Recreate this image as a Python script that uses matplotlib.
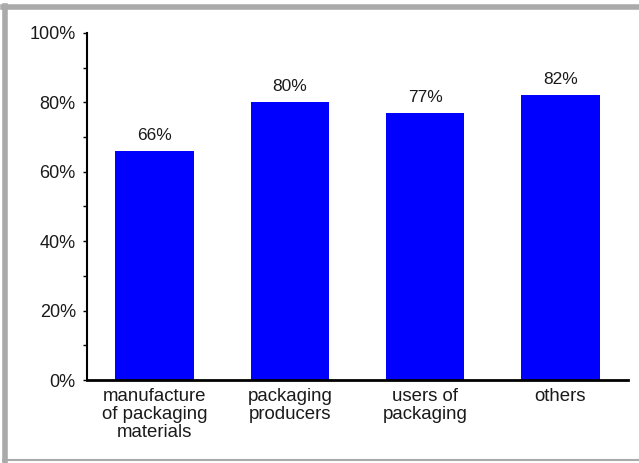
import matplotlib.pyplot as plt
from matplotlib.lines import Line2D
from matplotlib.ticker import MultipleLocator

categories = ["manufacture\nof packaging\nmaterials", "packaging\nproducers",
              "users of\npackaging", "others"]
values = [66, 80, 77, 82]
yticks = [0, 20, 40, 60, 80, 100]

plt.rcParams['font.family'] = ['Liberation Sans', 'DejaVu Sans']
txt = "#1a1a1a"

fig = plt.figure(figsize=(6.39, 4.63), dpi=100)
ax = fig.add_axes([0.136, 0.179, 0.847, 0.750])

x = range(len(categories))
ax.bar(x, values, width=0.58, color="#0000ff")
for i, v in zip(x, values):
    ax.text(i, v + 2.3, "%d%%" % v, ha="center", va="bottom", fontsize=12.5, color=txt)

ax.set_xlim(-0.5, 3.5)
ax.set_ylim(0, 100)
ax.set_yticks(yticks)
ax.set_yticklabels(["%d%%" % t for t in yticks], fontsize=13, color=txt)
ax.yaxis.set_minor_locator(MultipleLocator(10))
ax.set_xticks(list(x))
ax.set_xticklabels(categories, fontsize=13.4, linespacing=1.05, color=txt)
ax.tick_params(axis="x", length=0, pad=6)
ax.tick_params(axis="y", which="both", length=3, width=1, pad=5)
for side in ["top", "right"]:
    ax.spines[side].set_visible(False)
ax.spines["left"].set_linewidth(1.5)
ax.spines["bottom"].set_linewidth(2)

# grey frame around the picture
grey = "#aaaaaa"
fig.add_artist(Line2D([0.005, 1.0], [0.985, 0.985], color=grey, lw=4, transform=fig.transFigure))
fig.add_artist(Line2D([0.008, 0.008], [0.005, 0.987], color=grey, lw=4, transform=fig.transFigure))
fig.add_artist(Line2D([0.005, 1.0], [0.006, 0.006], color=grey, lw=1.5, transform=fig.transFigure))

fig.savefig("out.png", dpi=100)
